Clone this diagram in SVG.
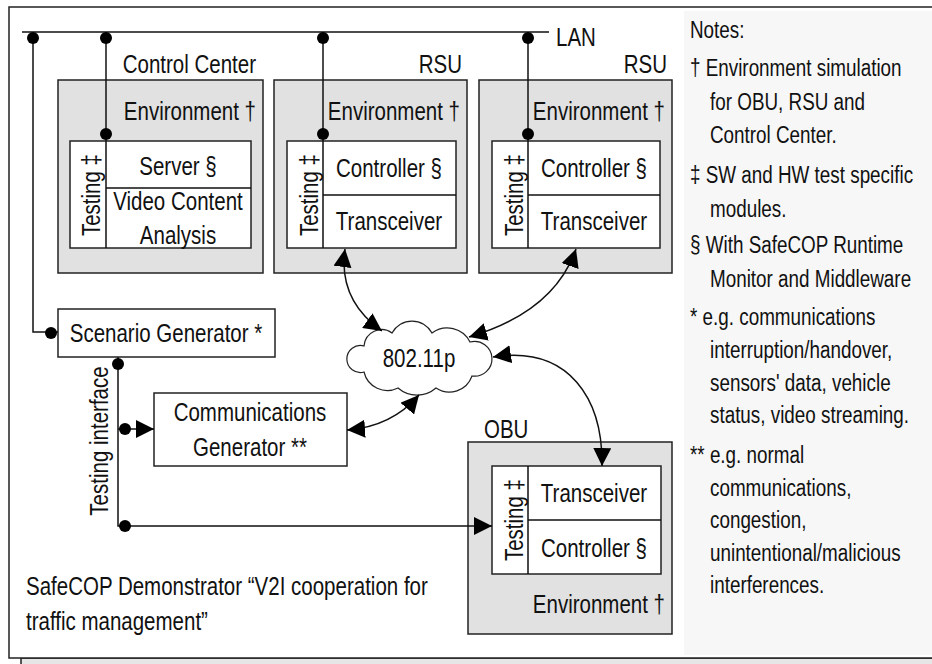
<svg xmlns="http://www.w3.org/2000/svg" width="932" height="664" viewBox="0 0 932 664">
<style>
text{font-family:"Liberation Sans Narrow","Liberation Sans",Arial,sans-serif;fill:#111;}
.s{transform:scale(0.82,1);}
.t{font-size:25px;}
.n{font-size:23px;}
.m{text-anchor:middle;}
.e{text-anchor:end;}
.env{fill:#e1e1e1;stroke:#222;stroke-width:1.5;}
.box{fill:#fff;stroke:#222;stroke-width:1.5;}
.ln{fill:none;stroke:#111;stroke-width:1.5;}
.dot{fill:#000;}
</style>
<defs>
<marker id="ah" viewBox="0 0 18 18" markerUnits="userSpaceOnUse" markerWidth="18" markerHeight="18" refX="18" refY="9" orient="auto-start-reverse">
<path d="M0 0L18 9L0 18Z" fill="#000"/>
</marker>
</defs>
<rect x="21" y="658" width="930" height="12" fill="#e6e6e6" stroke="#222" stroke-width="1.5"/>
<rect x="9" y="7" width="940" height="651" fill="#fff" stroke="#222" stroke-width="1.5"/>
<rect x="684" y="11" width="250" height="644" fill="#f7f7f7"/>

<g id="control-center">
<text class="t e s" x="312.2" y="73">Control Center</text>
<rect class="env" x="58" y="80" width="205" height="193"/>
<text class="t e s" x="312.2" y="120">Environment †</text>
<rect class="box" x="70" y="141" width="181" height="107"/>
<path class="ln" d="M106 141V248M106 188H251"/>
<text class="t m" transform="translate(100,195) rotate(-90) scale(0.82,1)">Testing ‡</text>
<text class="t m s" x="217.07" y="175">Server §</text>
<text class="t m s" x="217.07" y="210">Video Content</text>
<text class="t m s" x="217.07" y="244">Analysis</text>
</g>

<g id="rsu1">
<text class="t e s" x="563.41" y="73">RSU</text>
<rect class="env" x="274" y="80" width="193" height="193"/>
<text class="t e s" x="560.98" y="120">Environment †</text>
<rect class="box" x="287" y="141" width="169" height="107"/>
<path class="ln" d="M323 141V248M323 195H456"/>
<text class="t m" transform="translate(318,195) rotate(-90) scale(0.82,1)">Testing ‡</text>
<text class="t m s" x="474.39" y="177">Controller §</text>
<text class="t m s" x="474.39" y="230">Transceiver</text>
</g>

<g id="rsu2">
<text class="t e s" x="813.41" y="73">RSU</text>
<rect class="env" x="479" y="80" width="193" height="193"/>
<text class="t e s" x="810.98" y="120">Environment †</text>
<rect class="box" x="492" y="141" width="168" height="107"/>
<path class="ln" d="M528 141V248M528 195H660"/>
<text class="t m" transform="translate(523,195) rotate(-90) scale(0.82,1)">Testing ‡</text>
<text class="t m s" x="724.39" y="177">Controller §</text>
<text class="t m s" x="724.39" y="230">Transceiver</text>
</g>

<g id="scenario-generator">
<rect class="box" x="58" y="309" width="217" height="48"/>
<text class="t m s" x="202.44" y="342">Scenario Generator *</text>
</g>

<g id="communications-generator">
<rect class="box" x="154" y="393" width="193" height="73"/>
<text class="t m s" x="304.88" y="421">Communications</text>
<text class="t m s" x="304.88" y="456">Generator **</text>
</g>

<g id="cloud">
<path d="M364 372A13.5 13.5 0 1 1 364 346A17.7 17.7 0 0 1 392 333A22.7 22.7 0 0 1 432 333A25.6 25.6 0 0 1 470 342A17.4 17.4 0 1 1 472 376A24 24 0 0 1 436 388A29 29 0 0 1 398 388A24 24 0 0 1 364 372Z" fill="#fff" stroke="#222" stroke-width="1.2"/>
<text class="t m s" x="510.98" y="367">802.11p</text>
</g>

<g id="obu">
<text class="t s" x="590.24" y="438">OBU</text>
<rect class="env" x="468" y="442" width="204" height="192"/>
<rect class="box" x="492" y="466" width="169" height="108"/>
<path class="ln" d="M528 466V574M528 520H661"/>
<text class="t m" transform="translate(523,520) rotate(-90) scale(0.82,1)">Testing ‡</text>
<text class="t m s" x="724.39" y="502">Transceiver</text>
<text class="t m s" x="724.39" y="557">Controller §</text>
<text class="t e s" x="810.98" y="613">Environment †</text>
</g>

<g id="connectors">
<path class="ln" d="M22 32H549"/>
<path class="ln" d="M33 38V332H58"/>
<path class="ln" d="M106 32V141"/>
<path class="ln" d="M323 32V141"/>
<path class="ln" d="M528 32V141"/>
<path class="ln" d="M118 357V526H492" marker-end="url(#ah)"/>
<path class="ln" d="M118 429H154" marker-end="url(#ah)"/>
<path class="ln" d="M345 249C340 285 355 312 382 331" marker-start="url(#ah)" marker-end="url(#ah)"/>
<path class="ln" d="M576 249C560 295 520 322 469 337" marker-start="url(#ah)" marker-end="url(#ah)"/>
<path class="ln" d="M493 357C570 345 603 400 602 466" marker-start="url(#ah)" marker-end="url(#ah)"/>
<path class="ln" d="M347 430C375 428 400 417 419 395" marker-start="url(#ah)" marker-end="url(#ah)"/>
<circle class="dot" cx="33" cy="38" r="6"/>
<circle class="dot" cx="106" cy="38" r="6"/>
<circle class="dot" cx="323" cy="38" r="6"/>
<circle class="dot" cx="528" cy="38" r="6"/>
<circle class="dot" cx="106" cy="134" r="6"/>
<circle class="dot" cx="323" cy="134" r="6"/>
<circle class="dot" cx="528" cy="134" r="6"/>
<circle class="dot" cx="51" cy="333" r="6"/>
<circle class="dot" cx="118" cy="364" r="6"/>
<circle class="dot" cx="125" cy="429" r="6"/>
<circle class="dot" cx="125" cy="526" r="6"/>
<text class="t s" x="678.05" y="46">LAN</text>
<text class="t m" transform="translate(108,441) rotate(-90) scale(0.82,1)">Testing interface</text>
</g>

<g id="title">
<text class="t s" x="31.71" y="595">SafeCOP Demonstrator “V2I cooperation for</text>
<text class="t s" x="31.71" y="630">traffic management”</text>
</g>

<g id="notes">
<text class="n s" x="841.46" y="38">Notes:</text>
<text class="n s" x="841.46" y="76">† Environment simulation</text>
<text class="n s" x="865.85" y="110">for OBU, RSU and</text>
<text class="n s" x="865.85" y="143">Control Center.</text>
<text class="n s" x="841.46" y="183">‡ SW and HW test specific</text>
<text class="n s" x="865.85" y="217">modules.</text>
<text class="n s" x="841.46" y="253">§ With SafeCOP Runtime</text>
<text class="n s" x="865.85" y="287">Monitor and Middleware</text>
<text class="n s" x="841.46" y="325">* e.g. communications</text>
<text class="n s" x="865.85" y="358">interruption/handover,</text>
<text class="n s" x="865.85" y="391">sensors' data, vehicle</text>
<text class="n s" x="865.85" y="423">status, video streaming.</text>
<text class="n s" x="841.46" y="463">** e.g. normal</text>
<text class="n s" x="865.85" y="496">communications,</text>
<text class="n s" x="865.85" y="528">congestion,</text>
<text class="n s" x="865.85" y="561">unintentional/malicious</text>
<text class="n s" x="865.85" y="593">interferences.</text>
</g>
</svg>
